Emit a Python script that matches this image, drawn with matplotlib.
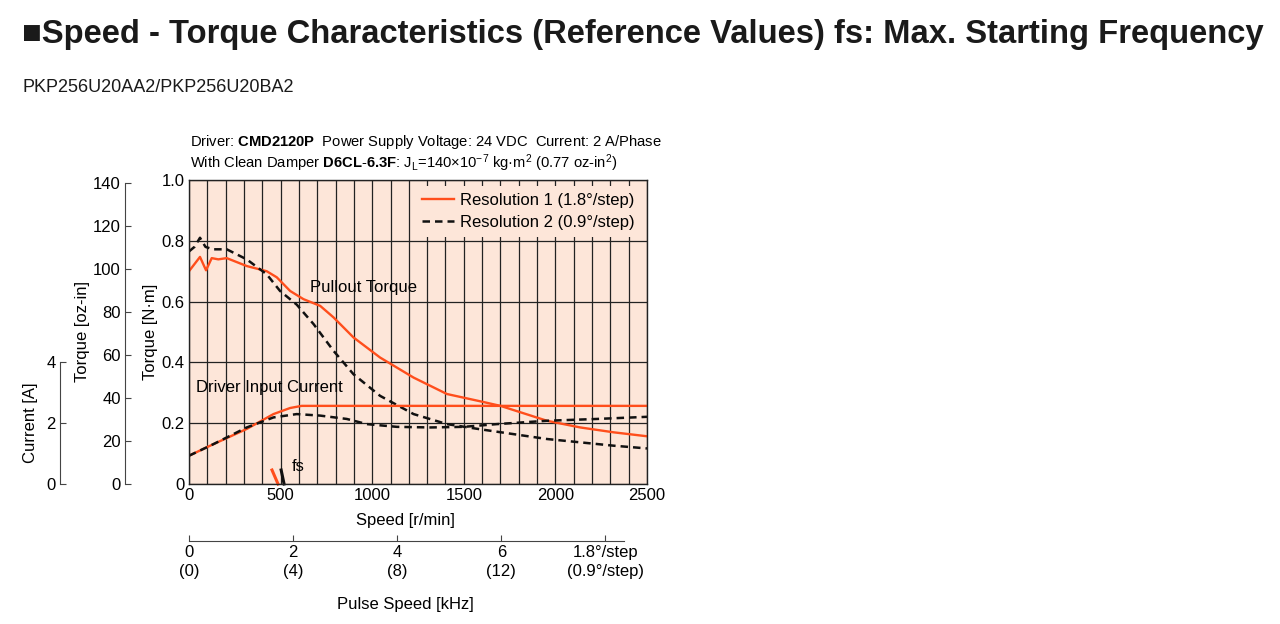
import numpy as np
import matplotlib
matplotlib.use("Agg")
import matplotlib.pyplot as plt
from matplotlib import font_manager

# ---- data ----
speed_r1 = [0, 60, 93, 124, 160, 206, 315, 424, 479, 552, 625, 716, 789, 898,
            1043, 1226, 1408, 1590, 1700, 1954, 2136, 2318, 2500]
torque_r1 = [0.70, 0.747, 0.703, 0.743, 0.739, 0.743, 0.717, 0.70, 0.68, 0.635,
             0.608, 0.586, 0.548, 0.482, 0.416, 0.35, 0.296, 0.272, 0.257, 0.208,
             0.186, 0.17, 0.157]

speed_r2 = [0, 30, 60, 90, 130, 206, 315, 424, 497, 588, 680, 789, 898, 1043,
            1226, 1408, 1590, 1772, 1954, 2136, 2318, 2500]
torque_r2 = [0.765, 0.78, 0.81, 0.78, 0.772, 0.772, 0.739, 0.69, 0.635, 0.59,
             0.526, 0.438, 0.361, 0.29, 0.23, 0.197, 0.18, 0.164, 0.148, 0.137,
             0.126, 0.117]

cur_speed_r1 = [0, 133, 315, 461, 552, 615, 2500]
current_r1 = [0.93, 1.31, 1.81, 2.30, 2.50, 2.57, 2.57]

cur_speed_r2 = [0, 133, 315, 461, 588, 716, 861, 971, 1135, 1317, 1499, 1681,
                1954, 2228, 2500]
current_r2 = [0.93, 1.31, 1.86, 2.19, 2.30, 2.25, 2.14, 1.97, 1.88, 1.86, 1.88,
              1.97, 2.08, 2.14, 2.21]

fs_r1 = ([453, 486], [0.046, 0.0])
fs_r2 = ([503, 519], [0.046, 0.0])

pulse_ticks = [0, 2, 4, 6, 8]
pulse_labels = ["0\n(0)", "2\n(4)", "4\n(8)", "6\n(12)", "1.8°/step\n(0.9°/step)"]

NM_TO_OZIN = 141.612
A_TO_NM = 0.1   # current axis: 4 A sits at 0.4 N·m

ORANGE = "#ff4e1c"
PEACH = "#fde6d9"

names = {f.name for f in font_manager.fontManager.ttflist}
narrow = "Liberation Sans Narrow" if "Liberation Sans Narrow" in names else "Liberation Sans"
plt.rcParams["font.family"] = [narrow, "DejaVu Sans"]
plt.rcParams["mathtext.fontset"] = "custom"
plt.rcParams["mathtext.rm"] = narrow
plt.rcParams["mathtext.bf"] = narrow + ":bold"
plt.rcParams["mathtext.it"] = narrow

W, H = 1280, 624
fig = plt.figure(figsize=(12.8, 6.24), dpi=100)

def fx(px):
    return px / W

def fy(py):
    return 1 - py / H

x0, x1, ytop, ybot = 189, 647, 180, 484
ax = fig.add_axes([fx(x0), fy(ybot), fx(x1 - x0), (ybot - ytop) / H])
ax.set_facecolor(PEACH)
ax.set_xlim(0, 2500)
ax.set_ylim(0, 1.0)
ax.set_xticks(np.arange(0, 2501, 100), minor=True)
ax.set_xticks([0, 500, 1000, 1500, 2000, 2500])
ax.set_yticks([0, 0.2, 0.4, 0.6, 0.8, 1.0])
ax.set_yticklabels(["0", "0.2", "0.4", "0.6", "0.8", "1.0"])
ax.grid(True, which="both", axis="x", color="#222222", lw=0.9)
ax.grid(True, which="major", axis="y", color="#222222", lw=0.9)
ax.tick_params(which="both", length=0, labelsize=12, pad=3)
for s in ax.spines.values():
    s.set_color("#222222")
    s.set_linewidth(1.0)

ax.plot(speed_r1, torque_r1, color=ORANGE, lw=1.7, label="Resolution 1 (1.8°/step)")
ax.plot(speed_r2, torque_r2, color="#111111", lw=1.8, dashes=(3, 2),
        label="Resolution 2 (0.9°/step)")
ax.plot(cur_speed_r1, np.array(current_r1) * A_TO_NM, color=ORANGE, lw=1.7)
ax.plot(cur_speed_r2, np.array(current_r2) * A_TO_NM, color="#111111", lw=1.8,
        dashes=(3, 2))
ax.plot(*fs_r1, color=ORANGE, lw=2.2, clip_on=False)
ax.plot(*fs_r2, color="#111111", lw=2.2, clip_on=False)

ax.text(660, 0.648, "Pullout Torque", fontsize=12, va="center", ha="left")
ax.text(38, 0.319, "Driver Input Current", fontsize=12, va="center", ha="left")
ax.text(560, 0.056, "fs", fontsize=12, va="center", ha="left")

leg = ax.legend(loc="upper right", fontsize=12, frameon=True, facecolor=PEACH,
                edgecolor="none", framealpha=1, handlelength=1.9,
                handletextpad=0.35, borderaxespad=0.35, labelspacing=0.45)

ax.set_ylabel("Torque [N·m]", fontsize=12, labelpad=3)

# oz-in axis
ax_oz = fig.add_axes([fx(125), fy(ybot), 0.0001, (ybot - ytop) / H])
ax_oz.set_ylim(0, NM_TO_OZIN)
ax_oz.set_yticks(np.arange(0, 141, 20))
for k in ["top", "right", "bottom"]:
    ax_oz.spines[k].set_visible(False)
ax_oz.spines["left"].set_bounds(0, 140)
ax_oz.spines["left"].set_color("#444444")
ax_oz.set_xticks([])
ax_oz.patch.set_visible(False)
ax_oz.tick_params(axis="y", direction="in", length=4, labelsize=12, pad=3,
                  color="#444444")
ax_oz.set_ylabel("Torque [oz-in]", fontsize=12, labelpad=2)

# current axis
ax_a = fig.add_axes([fx(60), fy(ybot), 0.0001, (ybot - ytop) / H])
ax_a.set_ylim(0, 1.0 / A_TO_NM)
ax_a.set_yticks([0, 2, 4])
for k in ["top", "right", "bottom"]:
    ax_a.spines[k].set_visible(False)
ax_a.spines["left"].set_bounds(0, 4)
ax_a.spines["left"].set_color("#444444")
ax_a.set_xticks([])
ax_a.patch.set_visible(False)
ax_a.tick_params(axis="y", direction="in", length=4, labelsize=12, pad=3,
                 color="#444444")
ax_a.set_ylabel("Current [A]", fontsize=12)
ax_a.yaxis.set_label_coords(fx(38), fy(423), transform=fig.transFigure)

# pulse speed axis
ax_p = fig.add_axes([fx(x0), fy(541), fx(x1 - x0), 0.0001])
ax_p.set_xlim(0, 8.8)
ax_p.set_xticks(pulse_ticks)
ax_p.set_xticklabels(pulse_labels, linespacing=1.3)
for k in ["top", "right", "left"]:
    ax_p.spines[k].set_visible(False)
ax_p.spines["bottom"].set_bounds(0, 8.35)
ax_p.spines["bottom"].set_color("#444444")
ax_p.set_yticks([])
ax_p.patch.set_visible(False)
ax_p.tick_params(axis="x", direction="in", length=4, labelsize=12, pad=3,
                 color="#444444")

fig.text(fx(405), fy(520), "Speed [r/min]", fontsize=12, ha="center", va="center")
fig.text(fx(405), fy(605), "Pulse Speed [kHz]", fontsize=12, ha="center", va="center")

fig.text(fx(190), fy(142),
         r"Driver: $\mathbf{CMD2120P}$  Power Supply Voltage: 24 VDC  Current: 2 A/Phase",
         fontsize=10.6, ha="left", va="center")
fig.text(fx(190), fy(163),
         r"With Clean Damper $\mathbf{D6CL\text{-}6.3F}$: J$_\mathrm{L}$=140×10$^{-7}$ kg·m$^2$ (0.77 oz-in$^2$)",
         fontsize=10.6, ha="left", va="center")

fig.text(fx(22), fy(34),
         "■Speed - Torque Characteristics (Reference Values) fs: Max. Starting Frequency",
         fontsize=23.6, fontweight="bold", ha="left", va="center",
         family=["Liberation Sans", "DejaVu Sans"], color="#1a1a1a")
fig.text(fx(22), fy(88), "PKP256U20AA2/PKP256U20BA2", fontsize=13,
         ha="left", va="center", family=["Liberation Sans", "DejaVu Sans"],
         color="#1a1a1a")

fig.savefig("out.png", dpi=100)
